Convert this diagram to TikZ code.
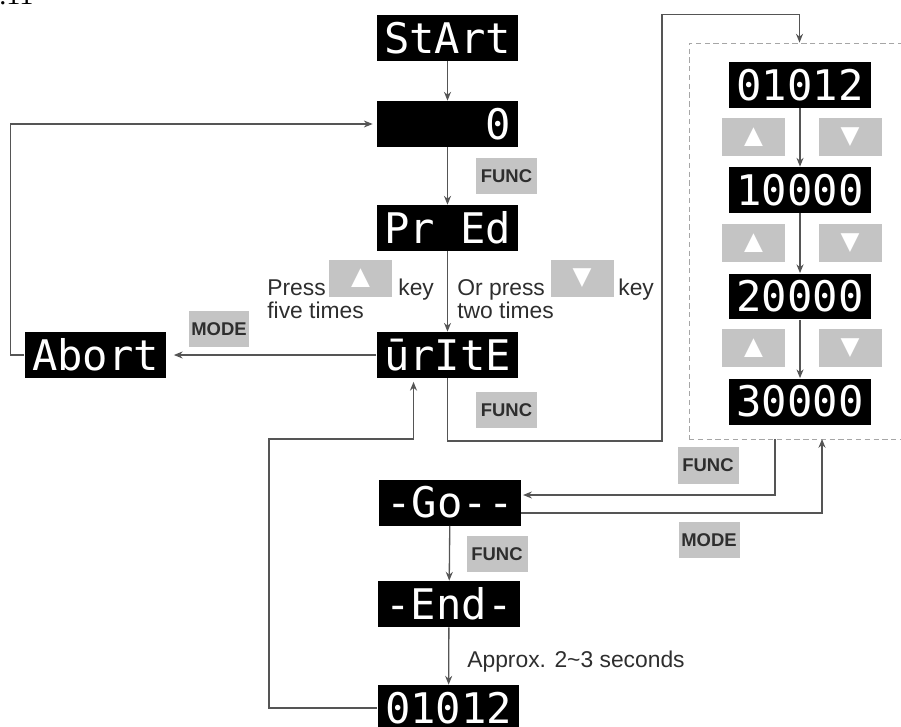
\documentclass[tikz,border=0pt]{standalone}
\usepackage{fontspec}
\setmainfont{Liberation Sans}
\newfontfamily\segfont{DejaVu Sans Mono}
\newfontfamily\symfont{DejaVu Sans}
\newfontfamily\headfont{Liberation Serif}
\usetikzlibrary{arrows.meta, positioning, calc}
\definecolor{keygray}{HTML}{C4C4C4}
\definecolor{linegray}{HTML}{555555}
\definecolor{txtgray}{HTML}{2E2E2E}

\begin{document}
\begin{tikzpicture}[x=0.02cm, y=-0.02cm,
  every node/.style={font=\fontsize{13}{15}\selectfont, text=txtgray},
  disp/.style={fill=black, text=white, minimum width=2.84cm, minimum height=0.92cm,
    inner sep=0pt, font=\segfont\fontsize{24}{24}\selectfont},
  keybox/.style={fill=keygray, minimum width=1.22cm, minimum height=0.73cm,
    inner sep=0pt, font=\fontsize{10.5}{12}\selectfont\bfseries},
  arrowkey/.style={keybox, minimum width=1.26cm, minimum height=0.76cm,
    text=white, font=\symfont\fontsize{14}{14}\selectfont},
  flow/.style={draw=linegray, line width=0.75pt, -{Stealth[length=5pt, width=4pt]}},
  lbl/.style={inner sep=0pt, anchor=base west}]

\useasboundingbox (0,0) rectangle (901,726);

% cut-off heading
\node[inner sep=0pt, anchor=base west, text=black, font=\headfont\fontsize{16}{16}\selectfont]
  (secno) at (-1,5) {.11};

% main column of displays
\node[disp] (start) at (447.5,38)  {StArt};
\node[disp] (zero)  at (447.5,124) {\phantom{0000}0};
\node[disp] (pred)  at (447.5,228) {Pr\phantom{0}Ed};
\node[disp] (write) at (447.5,355) {ūrItE};
\node[disp] (abort) at (95.5,355)  {Abort};
\node[disp] (go)    at (450,502.5) {-Go--};
\node[disp] (done)  at (449,604)   {-End-};
\node[disp] (back)  at (448.5,708) {01012};

% parameter values (dashed group)
\node[draw=gray!70, dashed, dash pattern=on 3pt off 2pt, line width=0.5pt,
  minimum width=4.42cm, minimum height=7.92cm, inner sep=0pt] (grp) at (799.5,241) {};
\node[disp] (p0) at (800,85)    {01012};
\node[disp] (p1) at (800,190)   {10000};
\node[disp] (p2) at (800,296.5) {20000};
\node[disp] (p3) at (800,401.5) {30000};
\foreach \y/\n in {137/a, 243/b, 348/c} {
  \node[arrowkey] (up\n) at (753.5,\y) {▲};
  \node[arrowkey] (dn\n) at (850,\y) {▼};
}

% keys
\node[keybox] (func1) at (506.5,176) {FUNC};
\node[keybox] (func2) at (506.5,410) {FUNC};
\node[keybox] (func3) at (708,465.5) {FUNC};
\node[keybox] (func4) at (497,554)   {FUNC};
\node[keybox] (mode1) at (219,329)   {MODE};
\node[keybox] (mode2) at (709,540)   {MODE};

% key hints
\node[lbl] (press)   at (267,295) {Press};
\node[arrowkey] (upkey) at (360.5,278.5) {▲};
\node[lbl] (key1)    at (398,295) {key};
\node[lbl] (five)    at (267,318) {five times};
\node[lbl] (orpress) at (457,295) {Or press};
\node[arrowkey] (dnkey) at (582,278.5) {▼};
\node[lbl] (key2)    at (618,295) {key};
\node[lbl] (two)     at (457,318) {two times};
\node[lbl] (approx)  at (467,667) {Approx. 2\textasciitilde3 seconds};

% flow
\draw[flow] (start) -- (zero);
\draw[flow] (zero) -- (pred);
\draw[flow] (pred) -- (write);
\draw[flow, shorten >=4pt] (write.west) -- (abort.east);
\draw[flow, shorten >=2pt] (abort.west) -- ++(-14,0) |- (zero.west);
\draw[flow] (write.south) |- (662,441) |- ([yshift=0.56cm]grp.north) -- (grp.north);
\draw[flow] (p0) -- (p1);
\draw[flow] (p1) -- (p2);
\draw[flow] (p2) -- (p3);
\coordinate (fout) at (775,439);
\coordinate (min) at (822,439);
\draw[flow, shorten >=1pt] (fout) |- ([yshift=0.15cm]go.east);
\draw[flow] ([yshift=-0.21cm]go.east) -| (min);
\draw[flow] (go) -- (done);
\draw[flow] (done) -- (back);
\draw[flow, shorten >=2pt] (back.west) -| (269,439) -| ([xshift=-0.68cm]write.south);

\end{tikzpicture}
\end{document}
